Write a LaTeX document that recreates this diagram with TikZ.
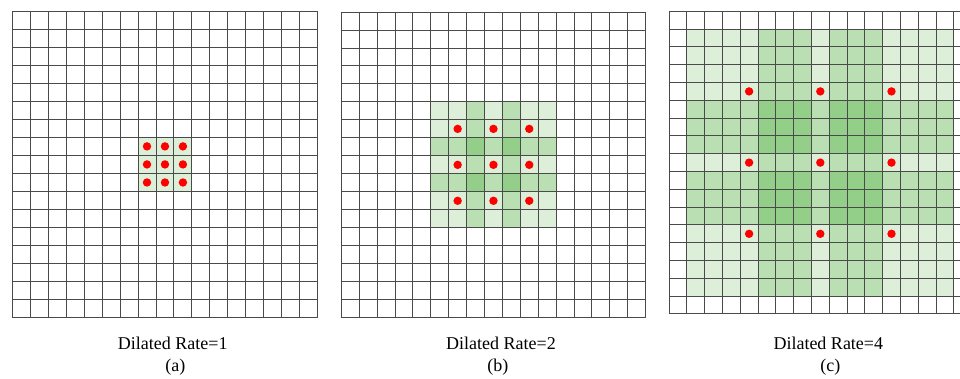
\documentclass[tikz,border=0pt]{standalone}
\usepackage{fontspec}
\setmainfont{Liberation Serif}
\definecolor{gL}{HTML}{DDEFD8}
\definecolor{gM}{HTML}{B9DFB2}
\definecolor{gD}{HTML}{93CF88}
\definecolor{gridc}{HTML}{4A4A4A}
\definecolor{dotc}{HTML}{FF0000}
\tikzset{
  gridline/.style={draw=gridc,line width=0.9pt},
  kdot/.style={fill=dotc},
  captxt/.style={font=\fontsize{18}{22}\selectfont,anchor=base,inner sep=0pt}
}
\begin{document}
\begin{tikzpicture}[x=1pt,y=-1pt]
\useasboundingbox (0,0) rectangle (960,378);
\clip (0,0) rectangle (960,378);
\fill[white] (0,0) rectangle (960,378);
% ---------- (a) ----------
\begin{scope}[shift={(12.3,11)}]
  \def\cw{17.96}\def\ch{18.05}
  \fill[gL] (7*\cw,7*\ch) rectangle (10*\cw,10*\ch);
  \foreach \i in {0,...,17} {
    \draw[gridline] (\i*\cw,0) -- (\i*\cw,17*\ch);
    \draw[gridline] (0,\i*\ch) -- (17*\cw,\i*\ch);
  }
  \foreach \r in {7,8,9} \foreach \c in {7,8,9}
    \fill[kdot] ({(\c+0.5)*\cw},{(\r+0.5)*\ch}) circle (4.2);
\end{scope}
% ---------- (b) ----------
\begin{scope}[shift={(341.3,12)}]
  \def\cw{17.9}\def\ch{17.98}
  \foreach \r in {5,...,11} {
    \foreach \c in {5,...,11} {
      \pgfmathtruncatemacro\lv{(abs(\c-8)==1)+(abs(\r-8)==1)}
      \ifcase\lv \def\cc{gL}\or\def\cc{gM}\else\def\cc{gD}\fi
      \fill[\cc] (\c*\cw,\r*\ch) rectangle ({(\c+1)*\cw},{(\r+1)*\ch});
    }
  }
  \foreach \i in {0,...,17} {
    \draw[gridline] (\i*\cw,0) -- (\i*\cw,17*\ch);
    \draw[gridline] (0,\i*\ch) -- (17*\cw,\i*\ch);
  }
  \foreach \r in {6,8,10} \foreach \c in {6,8,10}
    \fill[kdot] ({(\c+0.5)*\cw},{(\r+0.5)*\ch}) circle (4.2);
\end{scope}
% ---------- (c) ----------
\begin{scope}[shift={(669,11.3)}]
  \def\cw{17.8}\def\ch{17.8}
  \foreach \r in {1,...,15} {
    \foreach \c in {1,...,15} {
      \pgfmathtruncatemacro\lv{and(abs(\c-8)>=1,abs(\c-8)<=3)+and(abs(\r-8)>=1,abs(\r-8)<=3)}
      \ifcase\lv \def\cc{gL}\or\def\cc{gM}\else\def\cc{gD}\fi
      \fill[\cc] (\c*\cw,\r*\ch) rectangle ({(\c+1)*\cw},{(\r+1)*\ch});
    }
  }
  \foreach \i in {0,...,17} {
    \draw[gridline] (\i*\cw,0) -- (\i*\cw,17*\ch);
    \draw[gridline] (0,\i*\ch) -- (17*\cw,\i*\ch);
  }
  \foreach \r in {4,8,12} \foreach \c in {4,8,12}
    \fill[kdot] ({(\c+0.5)*\cw},{(\r+0.5)*\ch}) circle (4.2);
\end{scope}
% ---------- captions ----------
\node[captxt] (ta) at (172.8,349) {Dilated Rate=1};
\node[captxt] (la) at (175.3,371.7) {(a)};
\node[captxt] (tb) at (501,349) {Dilated Rate=2};
\node[captxt] (lb) at (497.8,371.7) {(b)};
\node[captxt] (tc) at (828.3,349) {Dilated Rate=4};
\node[captxt] (lc) at (830.3,371.7) {(c)};
\end{tikzpicture}
\end{document}
